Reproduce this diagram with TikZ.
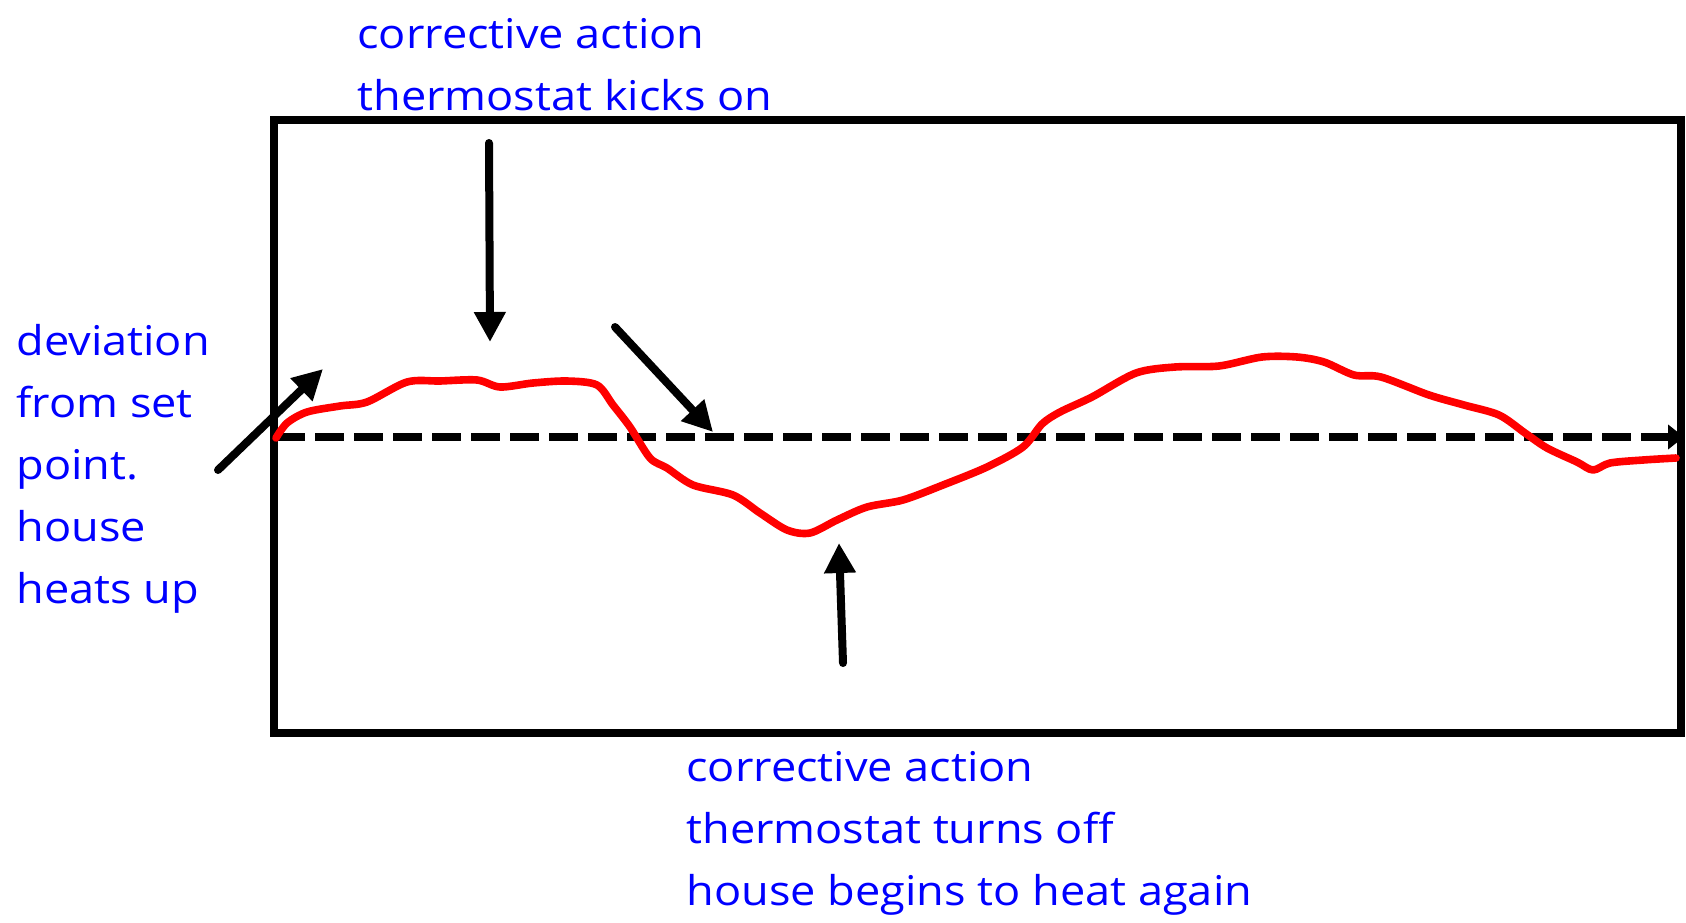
\documentclass[tikz,border=0pt]{standalone}
\usepackage{fontspec}
\setmainfont[FakeStretch=1.1]{Open Sans}
\usetikzlibrary{arrows.meta}
\tikzset{
  note/.style={blue, align=left, anchor=north west, inner sep=0pt,
    font=\fontsize{20.5}{31}\selectfont},
  pointer/.style={line width=4pt, line cap=round,
    -{Triangle[length=15pt,width=15pt]}},
  setpoint/.style={line width=4pt, dash pattern=on 14.5pt off 5pt,
    -{Triangle[length=8pt,width=12pt]}},
  temp/.style={red, line width=3.8pt, line join=round, line cap=round},
}
\begin{document}
\begin{tikzpicture}[x=0.5pt,y=-0.5pt]
  \useasboundingbox (0,0) rectangle (1686,922);
  % frame
  \draw[line width=4pt] (274,120) rectangle (1681,733);
  % set point
  \coordinate (S0) at (276,437);
  \coordinate (S1) at (1684,437);
  \draw[setpoint] (S0) -- (S1);
  % house temperature
  \draw[temp] plot[smooth, tension=0.5] coordinates {
    (276,438) (287,423) (307,412) (340,406) (367,402) (407,382) (440,381)
    (477,380) (500,387) (533,383) (567,381) (597,385) (613,405) (630,427)
    (650,458) (667,468) (693,485) (733,495) (760,513) (787,530) (810,533)
    (837,520) (867,507) (903,500) (943,485) (987,467) (1023,447) (1042,424)
    (1060,412) (1092,397) (1136,373) (1175,367) (1219,366) (1262,357)
    (1297,357) (1324,362) (1354,375) (1381,377) (1429,395) (1464,405)
    (1499,415) (1525,433) (1547,448) (1577,462) (1593,470) (1610,463)
    (1643,460) (1676,458)};
  % labels
  \node[note] (dev) at (16,324) {deviation\\from set\\point.\\house\\heats up};
  \node[note] (on) at (357,18) {corrective action\\thermostat kicks on};
  \node[note] (off) at (686,751) {corrective action\\thermostat turns off\\house begins to heat again};
  % pointers
  \coordinate (P1) at (218,470);
  \coordinate (Q1) at (323,369);
  \coordinate (P2) at (489,143);
  \coordinate (Q2) at (490,342);
  \coordinate (P3) at (615,327);
  \coordinate (Q3) at (713,432);
  \coordinate (P4) at (843,663);
  \coordinate (Q4) at (839,543);
  \draw[pointer] (P1) -- (Q1);
  \draw[pointer] (P2) -- (Q2);
  \draw[pointer] (P3) -- (Q3);
  \draw[pointer] (P4) -- (Q4);
\end{tikzpicture}
\end{document}
